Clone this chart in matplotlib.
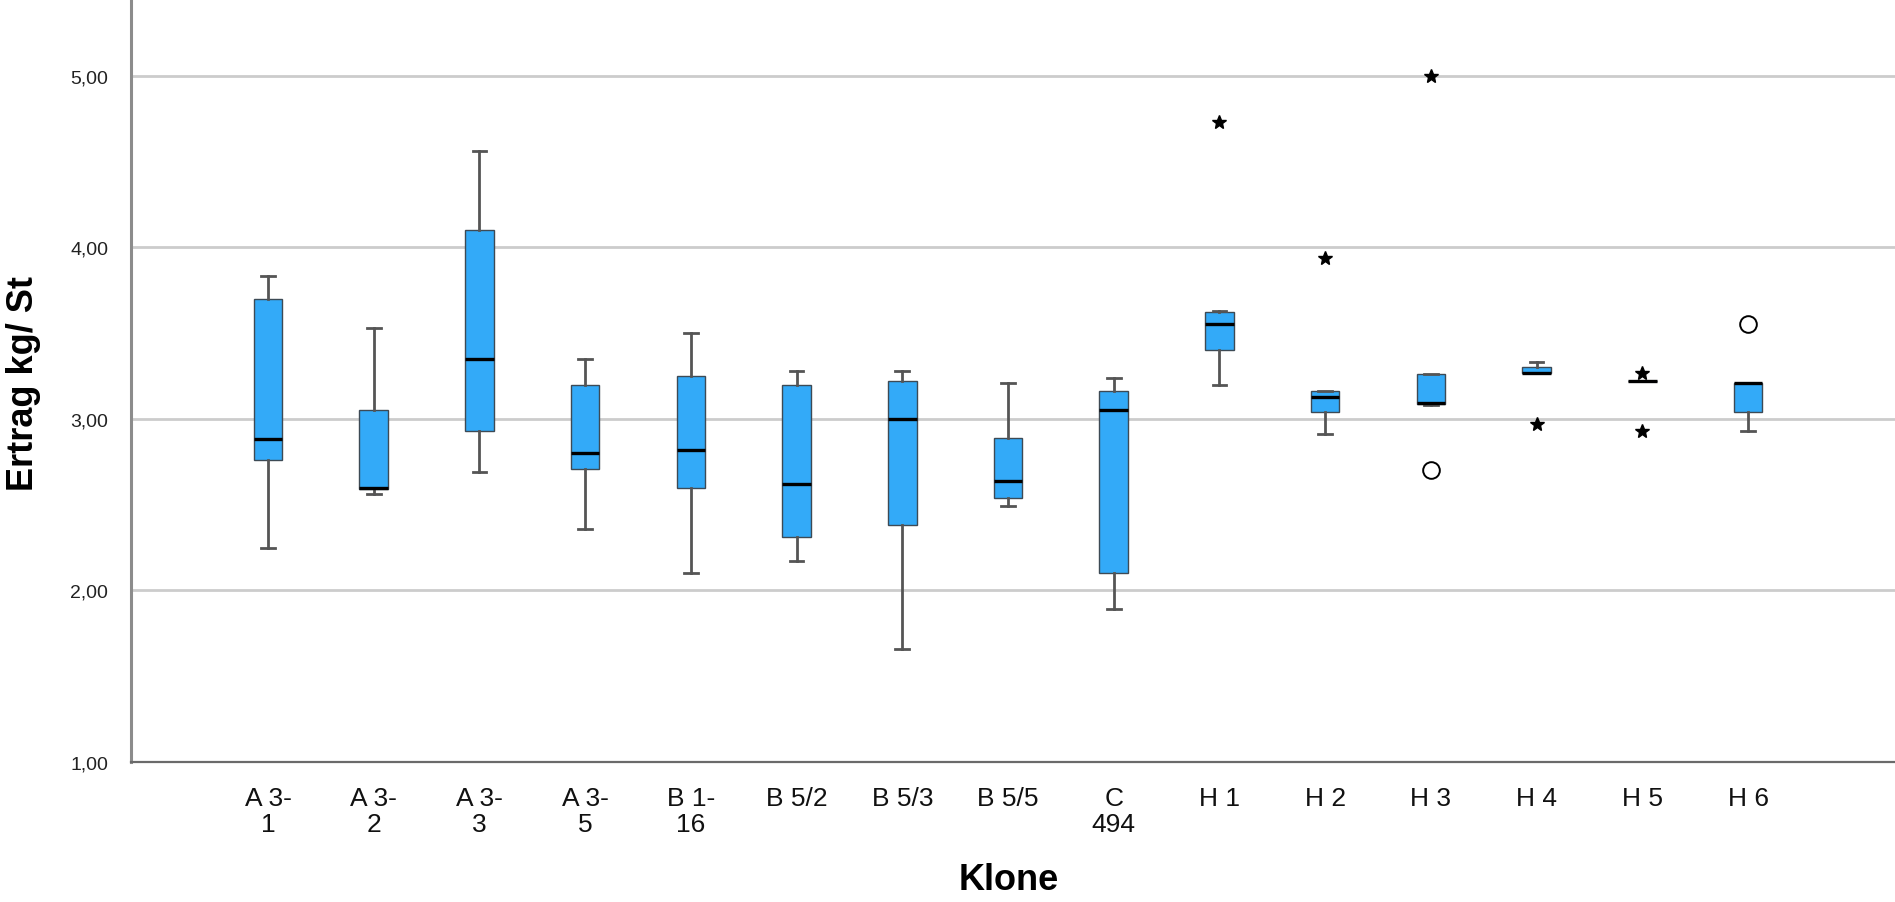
import numpy as np
import matplotlib
matplotlib.use("Agg")
import matplotlib.pyplot as plt

plt.rcParams['font.family'] = ['Liberation Sans', 'DejaVu Sans']

klone = ["A 3-\n1", "A 3-\n2", "A 3-\n3", "A 3-\n5", "B 1-\n16", "B 5/2", "B 5/3",
         "B 5/5", "C\n494", "H 1", "H 2", "H 3", "H 4", "H 5", "H 6"]
whisker_hi = [3.83, 3.53, 4.56, 3.35, 3.50, 3.28, 3.28, 3.21, 3.24, 3.63, 3.16, 3.26, 3.33, 3.22, 3.21]
q3 = [3.70, 3.05, 4.10, 3.20, 3.25, 3.20, 3.22, 2.89, 3.16, 3.62, 3.16, 3.26, 3.30, 3.22, 3.21]
median = [2.88, 2.60, 3.35, 2.80, 2.82, 2.62, 3.00, 2.64, 3.05, 3.55, 3.13, 3.09, 3.27, 3.22, 3.21]
q1 = [2.76, 2.59, 2.93, 2.71, 2.60, 2.31, 2.38, 2.54, 2.10, 3.40, 3.04, 3.085, 3.27, 3.22, 3.04]
whisker_lo = [2.25, 2.56, 2.69, 2.36, 2.10, 2.17, 1.66, 2.49, 1.89, 3.20, 2.91, 3.08, 3.27, 3.22, 2.93]

# Ausreisser: Stern = extrem, Kreis = Ausreisser
stern_klon = [9, 10, 11, 12, 13, 13]
stern_wert = [4.73, 3.94, 5.00, 2.97, 3.27, 2.93]
kreis_klon = [11, 14]
kreis_wert = [2.70, 3.555]

stats = []
for i in range(len(klone)):
    stats.append({"med": median[i], "q1": q1[i], "q3": q3[i],
                  "whislo": whisker_lo[i], "whishi": whisker_hi[i], "fliers": []})

fig = plt.figure(figsize=(18.95, 9.03), dpi=100)
ax = fig.add_axes([0.0689, 0.155, 0.9311, 0.845])

pos = np.arange(len(klone))
ax.bxp(stats, positions=pos, widths=0.27, patch_artist=True, showfliers=False,
       capwidths=0.13,
       boxprops=dict(facecolor="#33aaf8", edgecolor="#3d4a55", linewidth=1.0),
       medianprops=dict(color="black", linewidth=2.4),
       whiskerprops=dict(color="#555555", linewidth=2.0),
       capprops=dict(color="#555555", linewidth=2.0),
       zorder=3)

ax.plot(pos[stern_klon], stern_wert, linestyle="none", marker="*", markersize=10,
        color="black", zorder=4)
ax.plot(pos[kreis_klon], kreis_wert, linestyle="none", marker="o", markersize=12,
        markerfacecolor="white", markeredgecolor="black", markeredgewidth=1.4, zorder=4)

ax.set_xlim(-1.30, 15.39)
ax.set_ylim(1.0, 5.447)
ax.set_yticks([1, 2, 3, 4, 5])
ax.set_yticklabels(["1,00", "2,00", "3,00", "4,00", "5,00"], fontsize=14, color="#222222")
ax.set_xticks(pos)
ax.set_xticklabels(klone, fontsize=19, color="#111111", linespacing=1.15)
ax.tick_params(axis="y", length=0, pad=16)
ax.tick_params(axis="x", length=0, pad=17)

ax.grid(axis="y", color="#cccccc", linewidth=2.0, zorder=0)
ax.set_axisbelow(True)
for s in ["top", "right"]:
    ax.spines[s].set_visible(False)
ax.spines["left"].set_color("#8c8c8c")
ax.spines["left"].set_linewidth(2.2)
ax.spines["bottom"].set_color("#6a6a6a")
ax.spines["bottom"].set_linewidth(1.6)

fig.text(0.0125, 0.575, "Ertrag kg/ St", rotation=90, ha="center", va="center",
         fontsize=26, fontweight="bold")
fig.text(0.5325, 0.006, "Klone", ha="center", va="bottom", fontsize=26, fontweight="bold")

fig.savefig("out.png", dpi=100, facecolor="white")
